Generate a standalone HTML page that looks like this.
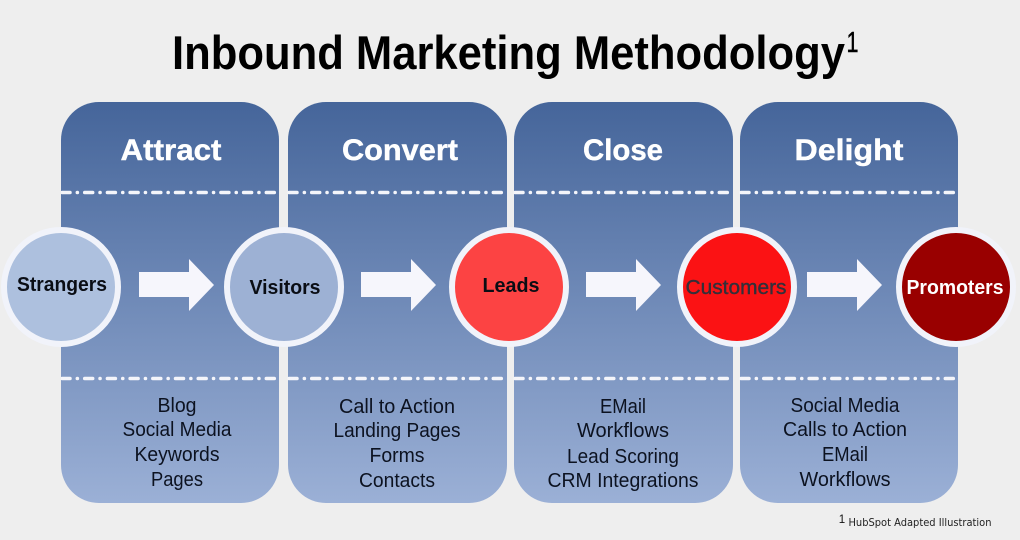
<!DOCTYPE html>
<html><head><meta charset="utf-8"><style>
html,body{margin:0;padding:0;background:#eeeeee}
svg{display:block}
text{font-family:"Liberation Sans",sans-serif;text-anchor:middle}
.h{font-size:30px;font-weight:bold;fill:#fff;stroke:#fff;stroke-width:.4}
.l{font-size:20px;fill:#0c1220}
.n{font-size:20px;font-weight:bold;fill:#0a0d14}
</style></head><body>
<svg width="1020" height="540" viewBox="0 0 1020 540" xmlns="http://www.w3.org/2000/svg">
<defs><linearGradient id="g" x1="0" y1="0" x2="0" y2="1"><stop offset="0" stop-color="#45659a"/><stop offset="1" stop-color="#9bb0d6"/></linearGradient>
<clipPath id="c"><rect x="61" y="180" width="897" height="210"/></clipPath></defs>
<rect width="1020" height="540" fill="#eeeeee"/>
<text x="508.500" y="69" font-size="47" font-weight="bold" fill="#000" textLength="673" lengthAdjust="spacingAndGlyphs">Inbound Marketing Methodology</text>
<text x="852.500" y="52" font-size="29" fill="#000" stroke="#000" stroke-width=".5" textLength="12" lengthAdjust="spacingAndGlyphs">1</text>
<rect x="61" y="102" width="218" height="401" rx="38" fill="url(#g)"/>
<rect x="288" y="102" width="219" height="401" rx="38" fill="url(#g)"/>
<rect x="514" y="102" width="219" height="401" rx="38" fill="url(#g)"/>
<rect x="740" y="102" width="218" height="401" rx="38" fill="url(#g)"/>
<g stroke="#f4f5fa" stroke-width="3.500" stroke-linecap="round" stroke-dasharray="8 7.300 0.100 7.300" fill="none" clip-path="url(#c)">
<path d="M62 192.500H279"/><path d="M289 192.500H507"/><path d="M515 192.500H733"/><path d="M741 192.500H956"/>
<path d="M62 378.500H279"/><path d="M289 378.500H507"/><path d="M515 378.500H733"/><path d="M741 378.500H956"/>
</g>
<text class="h" x="171" y="160" textLength="101" lengthAdjust="spacingAndGlyphs">Attract</text>
<text class="h" x="400" y="160" textLength="116" lengthAdjust="spacingAndGlyphs">Convert</text>
<text class="h" x="623" y="160" textLength="80" lengthAdjust="spacingAndGlyphs">Close</text>
<text class="h" x="849" y="160" textLength="109" lengthAdjust="spacingAndGlyphs">Delight</text>
<g fill="#f6f6fc">
<path d="M139 272H189V259L214 285L189 311V297H139Z"/>
<path d="M361 272H411V259L436 285L411 311V297H361Z"/>
<path d="M586 272H636V259L661 285L636 311V297H586Z"/>
<path d="M807 272H857V259L882 285L857 311V297H807Z"/>
</g>
<g stroke="#f1f3fa" stroke-width="6">
<circle cx="61" cy="287" r="57" fill="#adc0de"/>
<circle cx="284" cy="287" r="57" fill="#9db1d4"/>
<circle cx="509" cy="287" r="57" fill="#fc4343"/>
<circle cx="737" cy="287" r="57" fill="#fb1214"/>
<circle cx="956" cy="287" r="57" fill="#990000"/>
</g>
<text class="n" x="62" y="291" textLength="90" lengthAdjust="spacingAndGlyphs">Strangers</text>
<text class="n" x="285" y="294" textLength="71" lengthAdjust="spacingAndGlyphs">Visitors</text>
<text class="n" x="511" y="292" textLength="57" lengthAdjust="spacingAndGlyphs">Leads</text>
<text class="n" x="736" y="294" textLength="101" lengthAdjust="spacingAndGlyphs" style="fill:#33303a;font-weight:normal;stroke:#33303a;stroke-width:.4">Customers</text>
<text class="n" x="955" y="294" textLength="97" lengthAdjust="spacingAndGlyphs" style="fill:#fff">Promoters</text>
<text class="l" x="177" y="412" textLength="39" lengthAdjust="spacingAndGlyphs">Blog</text>
<text class="l" x="177" y="436" textLength="109" lengthAdjust="spacingAndGlyphs">Social Media</text>
<text class="l" x="177" y="461" textLength="85" lengthAdjust="spacingAndGlyphs">Keywords</text>
<text class="l" x="177" y="486" textLength="52" lengthAdjust="spacingAndGlyphs">Pages</text>
<text class="l" x="397" y="413" textLength="116" lengthAdjust="spacingAndGlyphs">Call to Action</text>
<text class="l" x="397" y="437" textLength="127" lengthAdjust="spacingAndGlyphs">Landing Pages</text>
<text class="l" x="397" y="462" textLength="55" lengthAdjust="spacingAndGlyphs">Forms</text>
<text class="l" x="397" y="487" textLength="76" lengthAdjust="spacingAndGlyphs">Contacts</text>
<text class="l" x="623" y="413" textLength="46" lengthAdjust="spacingAndGlyphs">EMail</text>
<text class="l" x="623" y="437" textLength="92" lengthAdjust="spacingAndGlyphs">Workflows</text>
<text class="l" x="623" y="463" textLength="112" lengthAdjust="spacingAndGlyphs">Lead Scoring</text>
<text class="l" x="623" y="487" textLength="151" lengthAdjust="spacingAndGlyphs">CRM Integrations</text>
<text class="l" x="845" y="412" textLength="109" lengthAdjust="spacingAndGlyphs">Social Media</text>
<text class="l" x="845" y="436" textLength="124" lengthAdjust="spacingAndGlyphs">Calls to Action</text>
<text class="l" x="845" y="461" textLength="46" lengthAdjust="spacingAndGlyphs">EMail</text>
<text class="l" x="845" y="486" textLength="91" lengthAdjust="spacingAndGlyphs">Workflows</text>
<text x="842" y="523" font-size="11.500" fill="#111">1</text>
<text x="920" y="526" font-size="10.500" fill="#222" textLength="143" lengthAdjust="spacingAndGlyphs" style="font-family:'DejaVu Sans',sans-serif">HubSpot Adapted Illustration</text>
</svg>
</body></html>
